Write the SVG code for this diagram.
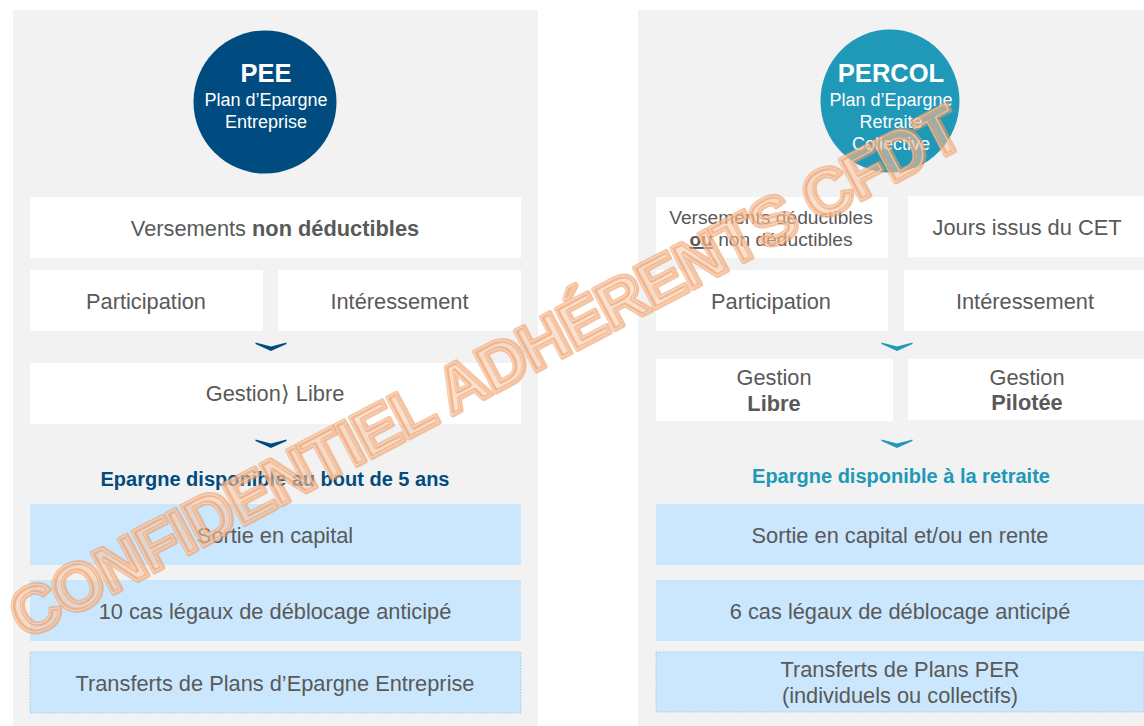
<svg xmlns="http://www.w3.org/2000/svg" width="1144" height="726" viewBox="0 0 1144 726">
<style>
text{font-family:"Liberation Sans",Arial,sans-serif;text-anchor:middle}
.p{fill:#f2f2f2}
.w{fill:#fff}
.b{fill:#cbe7fd}
.d{fill:#cbe7fd;stroke:#a9bccb;stroke-width:.8;stroke-dasharray:1.5 1.5}
.t{font-size:21.8px;fill:#595959}
.s{font-size:19.2px;fill:#595959}
.c{font-size:18px;fill:#fff}
.h{font-size:25.5px;font-weight:700;fill:#fff}
.k{font-size:20px;font-weight:700}
.m{font-family:"Liberation Sans",Arial,sans-serif;font-weight:700;font-size:66px;letter-spacing:-1.6px;text-anchor:start;stroke-linejoin:round}
.m1{fill:#f7c7a4;fill-opacity:.55;stroke:#ee9c66;stroke-opacity:.6;stroke-width:5}
.m2{fill:none;stroke:#fdeadd;stroke-opacity:.55;stroke-width:1}
</style>
<defs>
<path id="chev" d="M-15.5-3.5 0 .5 15.500-3.500 15.500-2 0 5-15.500-2Z"/>
<text id="wm" class="m">CONFIDENTIEL ADHÉRENTS CFDT</text>
</defs>
<rect width="1144" height="726" fill="#fff"/>
<g id="panel-pee">
<rect class="p" x="13" y="10" width="525" height="716"/>
</g>
<g id="panel-percol">
<rect class="p" x="638" y="10" width="506" height="716"/>
</g>
<g id="pee-circle">
<ellipse cx="265" cy="102" rx="71.500" ry="71.500" fill="#004c80"/>
<text class="h" x="266" y="82">PEE</text>
<text class="c" x="266" y="106">Plan d’Epargne</text>
<text class="c" x="266" y="128">Entreprise</text>
</g>
<g id="pee-versements"><rect class="w" x="30" y="197" width="491" height="61"/><text class="t" x="275" y="235.500">Versements <tspan font-weight="700">non déductibles</tspan></text></g>
<g id="pee-participation"><rect class="w" x="30" y="270" width="233" height="61"/><text class="t" x="146" y="309">Participation</text></g>
<g id="pee-interessement"><rect class="w" x="278" y="270" width="243" height="61"/><text class="t" x="399.500" y="309">Intéressement</text></g>
<g id="pee-gestion"><rect class="w" x="30" y="363" width="491" height="61"/><text class="t" x="275" y="401">Gestion⟩ Libre</text></g>
<g id="pee-dispo"><text class="k" x="275" y="486" fill="#004c80">Epargne disponible au bout de 5 ans</text></g>
<g id="pee-sortie"><rect class="b" x="30" y="504" width="491" height="61"/><text class="t" x="275" y="543">Sortie en capital</text></g>
<g id="pee-cas"><rect class="b" x="30" y="580" width="491" height="61"/><text class="t" x="275" y="619">10 cas légaux de déblocage anticipé</text></g>
<g id="pee-transferts"><rect class="d" x="30" y="652" width="491" height="61"/><text class="t" x="275" y="691">Transferts de Plans d’Epargne Entreprise</text></g>
<g id="percol-circle">
<ellipse cx="890" cy="101" rx="69.500" ry="71.500" fill="#2098b8"/>
<text class="h" x="891" y="82">PERCOL</text>
<text class="c" x="891" y="106">Plan d’Epargne</text>
<text class="c" x="891" y="128">Retraite</text>
<text class="c" x="891" y="150">Collective</text>
</g>
<g id="percol-versements"><rect class="w" x="656" y="197" width="232" height="61"/><text class="s" x="771" y="224">Versements déductibles</text><text class="s" x="771" y="246"><tspan font-weight="700" text-decoration="underline">ou</tspan> non déductibles</text></g>
<g id="percol-jours"><rect class="w" x="908" y="196" width="236" height="61"/><text class="t" x="1027" y="235">Jours issus du CET</text></g>
<g id="percol-participation"><rect class="w" x="656" y="270" width="232" height="61"/><text class="t" x="771" y="309">Participation</text></g>
<g id="percol-interessement"><rect class="w" x="904" y="270" width="240" height="61"/><text class="t" x="1025" y="309">Intéressement</text></g>
<g id="percol-libre"><rect class="w" x="656" y="359" width="237" height="62"/><text class="t" x="774" y="385">Gestion</text><text class="t" x="774" y="411" font-weight="700">Libre</text></g>
<g id="percol-pilotee"><rect class="w" x="908" y="359" width="236" height="61"/><text class="t" x="1027" y="385">Gestion</text><text class="t" x="1027" y="410" font-weight="700">Pilotée</text></g>
<g id="percol-dispo"><text class="k" x="901" y="483" fill="#2098b8">Epargne disponible à la retraite</text></g>
<g id="percol-sortie"><rect class="b" x="656" y="504" width="488" height="61"/><text class="t" x="900" y="543">Sortie en capital et/ou en rente</text></g>
<g id="percol-cas"><rect class="b" x="656" y="580" width="488" height="61"/><text class="t" x="900" y="619">6 cas légaux de déblocage anticipé</text></g>
<g id="percol-transferts"><rect class="d" x="656" y="652" width="488" height="60"/><text class="t" x="900" y="677">Transferts de Plans PER</text><text class="t" x="900" y="703">(individuels ou collectifs)</text></g>
<g id="connectors">
<use href="#chev" x="271" y="346" fill="#004c80"/>
<use href="#chev" x="271" y="443" fill="#004c80"/>
<use href="#chev" x="897" y="346" fill="#2098b8"/>
<use href="#chev" x="897" y="443" fill="#2098b8"/>
</g>
<g id="watermark" transform="translate(25 640) rotate(-27.750)">
<use href="#wm" class="m1"/>
<use href="#wm" class="m2" x="-1" y="-.5"/>
</g>
</svg>
